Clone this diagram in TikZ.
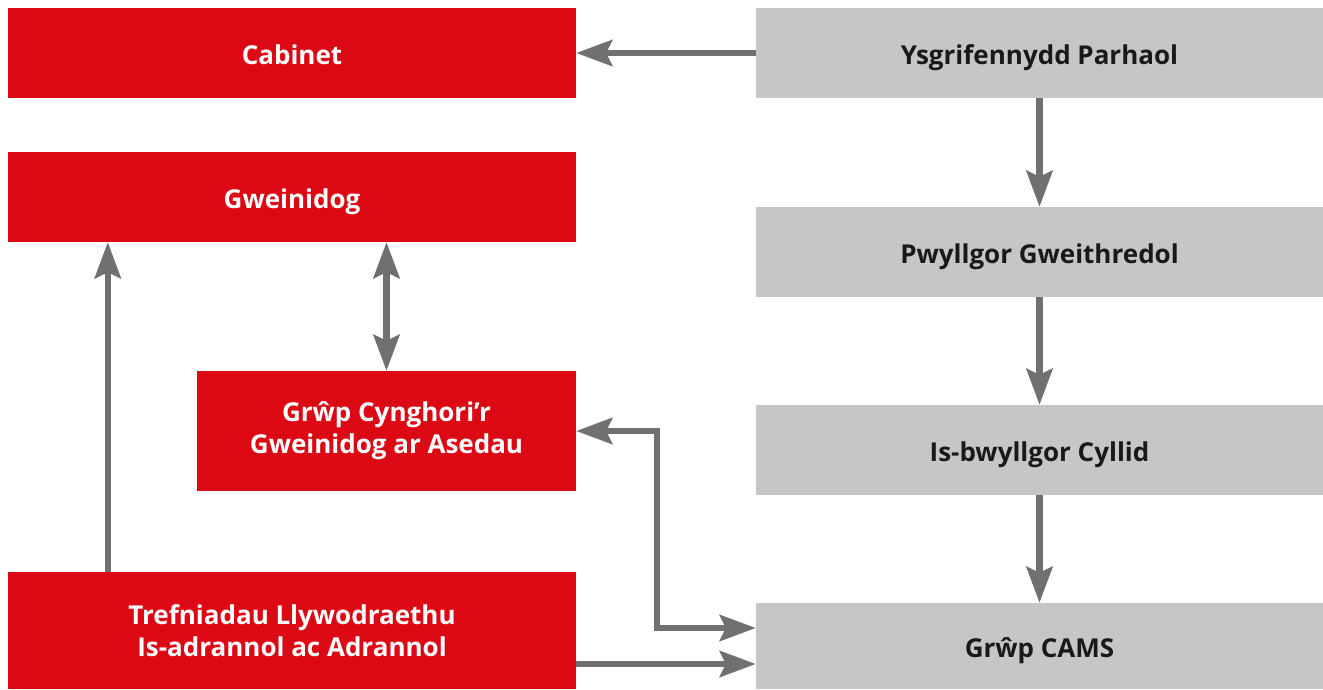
\documentclass[tikz,border=0pt]{standalone}
\usepackage{fontspec}
\setmainfont{Open Sans}
\usetikzlibrary{arrows.meta}
\definecolor{rot}{RGB}{220,8,20}
\definecolor{grau}{RGB}{198,198,198}
\definecolor{pfeil}{RGB}{112,112,112}
\tikzset{
  redbox/.style={fill=rot,text=white,minimum width=568pt,minimum height=90pt,align=center,inner sep=0pt,text height=23pt,text depth=0pt,font=\fontsize{26}{32}\selectfont\bfseries},
  greybox/.style={fill=grau,text=black!90,minimum width=567pt,minimum height=90pt,align=center,inner sep=0pt,text height=23pt,text depth=0pt,font=\fontsize{26}{32}\selectfont\bfseries},
  twolines/.style={text height=,text depth=},
  arr/.style={draw=pfeil,line width=6.5pt,-{Stealth[length=36pt,width=26pt,inset=6pt]}},
  arrr/.style={draw=pfeil,line width=6.5pt,{Stealth[length=36pt,width=26pt,inset=6pt]}-{Stealth[length=36pt,width=26pt,inset=6pt]}}
}
\begin{document}
\begin{tikzpicture}[x=1pt,y=-1pt]
        \useasboundingbox (0,0) rectangle (1323,689);
		\node[redbox] (cab) at (292,53) {Cabinet};
		\node[greybox] (ysg) at (1039.5,53) {Ysgrifennydd Parhaol};
		\node[redbox] (gwe) at (292,197) {Gweinidog};
		\node[greybox] (pwy) at (1039.5,252) {Pwyllgor Gweithredol};
		\node[redbox,twolines,minimum width=379pt,minimum height=120pt] (grp) at (386.5,431) {Grŵp Cynghori’r\\Gweinidog ar Asedau};
		\node[greybox] (isb) at (1039.5,450) {Is-bwyllgor Cyllid};
		\node[redbox,twolines,minimum height=117pt] (tre) at (292,630.5) {Trefniadau Llywodraethu\\Is-adrannol ac Adrannol};
		\node[greybox,minimum height=86pt] (cams) at (1039.5,646) {Grŵp CAMS};

		\draw[arr] (ysg.west) -- (cab.east);
		\draw[arr] (ysg) -- (pwy);
		\draw[arr] (pwy) -- (isb);
		\draw[arr] (isb) -- (cams);
		\draw[arrr] (grp.north) -- (grp.north |- gwe.south);
		\draw[arr] ([xshift=100pt]tre.north west) -- ([xshift=100pt]gwe.south west);
		\draw[arrr] (grp.east) -- ++(81pt,0) |- ([yshift=18pt]cams.west);
		\draw[arr] ([yshift=-18pt]cams.west -| tre.east) -- ([yshift=-18pt]cams.west);
\end{tikzpicture}
\end{document}
